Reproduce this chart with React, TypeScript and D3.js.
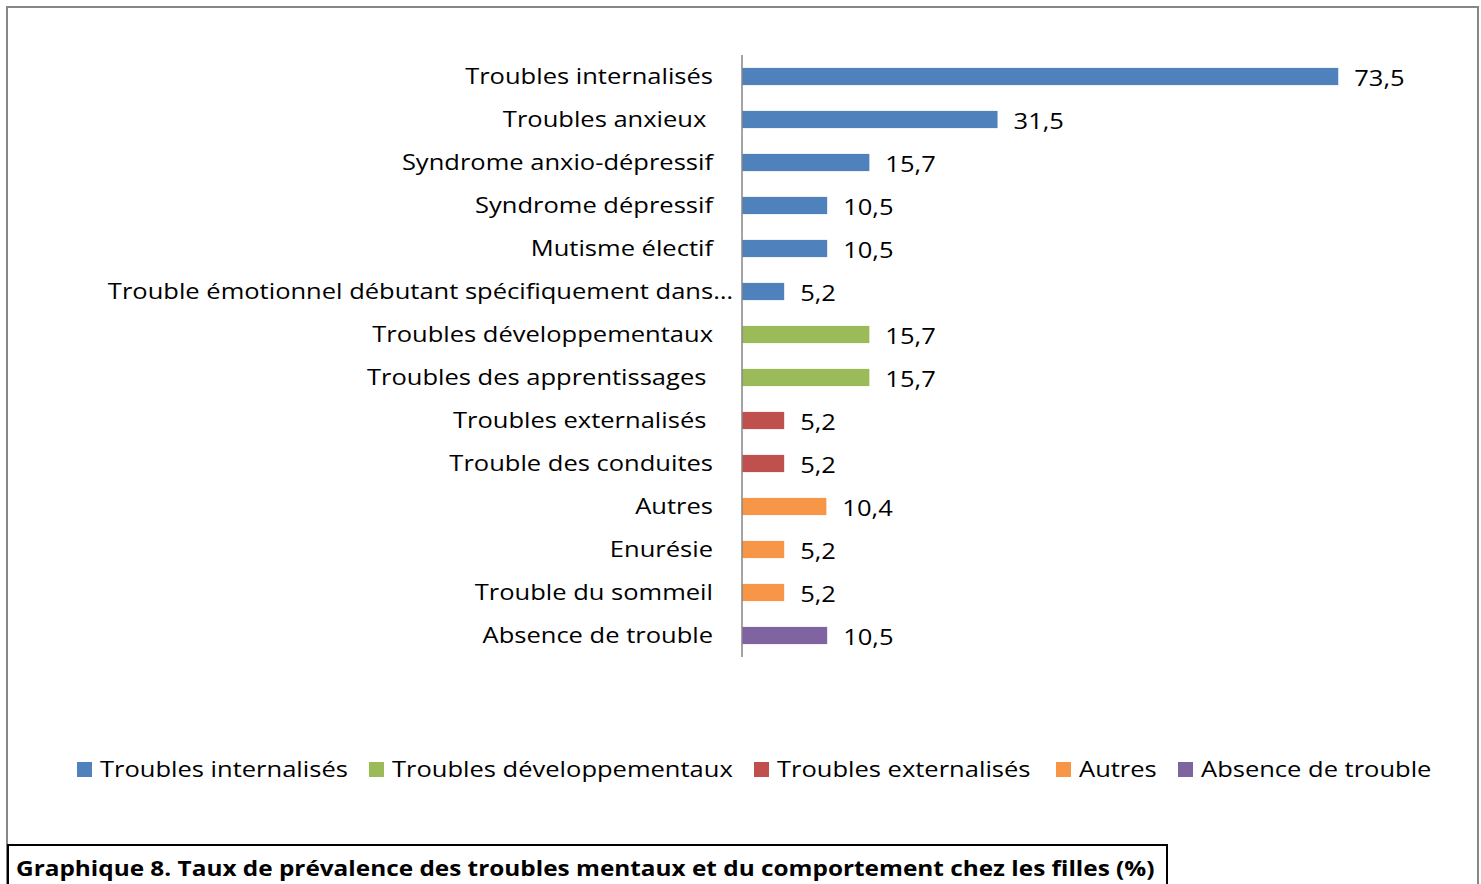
import React from "react";
import * as d3 from "d3";

const categories = [
  "Troubles internalisés",
  "Troubles anxieux ",
  "Syndrome anxio-dépressif",
  "Syndrome dépressif",
  "Mutisme électif",
  "Trouble émotionnel débutant spécifiquement dans…",
  "Troubles développementaux",
  "Troubles des apprentissages ",
  "Troubles externalisés ",
  "Trouble des conduites",
  "Autres",
  "Enurésie",
  "Trouble du sommeil",
  "Absence de trouble",
];
const values = [73.5, 31.5, 15.7, 10.5, 10.5, 5.2, 15.7, 15.7, 5.2, 5.2, 10.4, 5.2, 5.2, 10.5];
const groupOf = [0, 0, 0, 0, 0, 0, 1, 1, 2, 2, 3, 3, 3, 4];
const groups = [
  "Troubles internalisés",
  "Troubles développementaux",
  "Troubles externalisés",
  "Autres",
  "Absence de trouble",
];
const colors = ["#4F81BD", "#9BBB59", "#C0504D", "#F79646", "#8064A2"];
const caption =
  "Graphique 8. Taux de prévalence des troubles mentaux et du comportement chez les filles (%)";

const W = 1481;
const H = 884;
const FONT = "'Open Sans', 'Noto Sans', sans-serif";
const FS = 21;
const SX = 1.215;

function T({ x, y, anchor = "start", bold = false, sx = SX, children }: any) {
  return (
    <g transform={`translate(${x},${y}) scale(${sx},1)`}>
      <text
        x={0}
        y={0}
        dy="0.35em"
        textAnchor={anchor}
        fontFamily={FONT}
        fontSize={FS}
        fontWeight={bold ? "bold" : "normal"}
        fill="#000"
        style={{ whiteSpace: "pre" }}
      >
        {children}
      </text>
    </g>
  );
}

export default function App() {
  const axisX = 742;
  const x = d3.scaleLinear().domain([0, 80]).range([axisX, axisX + 649]);
  const y = d3
    .scaleBand<string>()
    .domain(categories.map((c, i) => i + ""))
    .range([55, 657])
    .paddingInner(0.6)
    .paddingOuter(0.3);
  const legendX = [77, 369, 754, 1056, 1178];

  return (
    <div style={{ position: "absolute", left: 0, top: 0 }}>
      <svg width={W} height={H} style={{ display: "block", background: "#fff" }}>
        <rect x={7} y={7} width={1471} height={H + 20} fill="#fff" stroke="#878787" strokeWidth={2} />
        {categories.map((c, i) => {
          const yy = y(i + "")!;
          const bw = y.bandwidth();
          const cy = yy + bw / 2;
          const truncated = c.endsWith("…");
          return (
            <g key={i}>
              <rect x={x(0)} y={yy} width={x(values[i]) - x(0)} height={bw} fill={colors[groupOf[i]]} />
              <T x={truncated ? axisX - 9 : axisX - 29} y={cy} anchor="end">
                {c}
              </T>
              <T x={x(values[i]) + 16} y={cy + 2}>
                {values[i].toFixed(1).replace(".", ",")}
              </T>
            </g>
          );
        })}
        <line x1={axisX} x2={axisX} y1={55} y2={657} stroke="#868686" strokeWidth={1.5} />
        {groups.map((g, i) => (
          <g key={g}>
            <rect x={legendX[i]} y={762} width={15} height={15} fill={colors[i]} />
            <T x={legendX[i] + 23} y={770}>
              {g}
            </T>
          </g>
        ))}
        <rect x={8} y={845} width={1159} height={60} fill="#fff" stroke="#000" strokeWidth={2} />
        <T x={16} y={869} bold sx={1.16}>
          {caption}
        </T>
      </svg>
    </div>
  );
}
